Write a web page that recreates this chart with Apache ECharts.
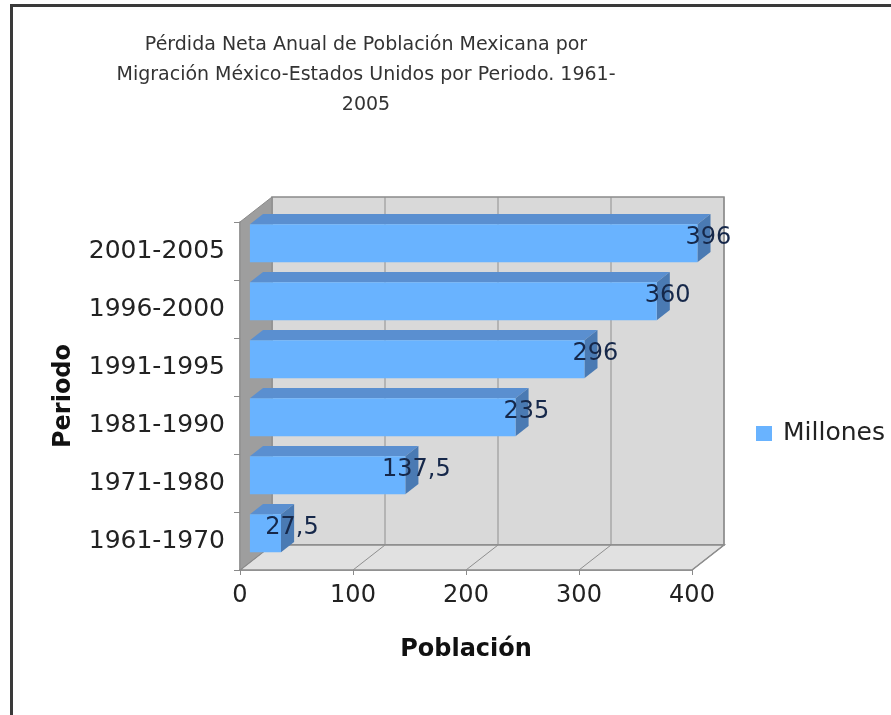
<!DOCTYPE html>
<html>
<head>
<meta charset="utf-8">
<script src="https://cdn.jsdelivr.net/npm/echarts@6/dist/echarts.min.js"></script>
<style>
  html, body { margin: 0; padding: 0; background: #fff; }
  #chart { width: 891px; height: 715px; }
</style>
</head>
<body>
<div id="chart"></div>
<script>
// Periods on the vertical axis (bottom to top)
const periods = ['1961-1970', '1971-1980', '1981-1990', '1991-1995', '1996-2000', '2001-2005'];
// Annual net loss per period (Millones)
const millones = [27.5, 137.5, 235, 296, 360, 396];
// Value ticks on the horizontal axis
const xTicks = [0, 100, 200, 300, 400];
const titleLines = [
  'Pérdida Neta Anual de Población Mexicana por',
  'Migración México-Estados Unidos por Periodo. 1961-',
  '2005'
];

const FONT = '"DejaVu Sans", Verdana, sans-serif';
// Depth vector of the 3D box, in pixels (back wall sits up and to the right)
const DX = 32, DY = -25;
// Bars occupy this slice of the depth, and this fraction of each band
const NEAR = 0.31, FAR = 0.72, BAR_FRAC = 0.655;

const COLORS = {
  wall: '#d9d9d9', floor: '#e1e1e1', side: '#9e9e9e', edge: '#8a8a8a',
  grid: '#8f8f8f', front: '#69b3ff', top: '#5a8fd0', end: '#4a7ab3', label: '#16284a'
};

function sceneItem(params, api) {
  const cs = params.coordSys;
  const x = cs.x, y = cs.y, w = cs.width, h = cs.height;
  return {
    type: 'group',
    children: [
      { type: 'polygon', shape: { points: [[x + DX, y + DY], [x + w + DX, y + DY], [x + w + DX, y + h + DY], [x + DX, y + h + DY]] },
        style: { fill: COLORS.wall, stroke: COLORS.edge, lineWidth: 1.5 } },
      { type: 'polygon', shape: { points: [[x, y + h], [x + w, y + h], [x + w + DX, y + h + DY], [x + DX, y + h + DY]] },
        style: { fill: COLORS.floor, stroke: COLORS.edge, lineWidth: 1.5 } },
      { type: 'polygon', shape: { points: [[x, y], [x + DX, y + DY], [x + DX, y + h + DY], [x, y + h]] },
        style: { fill: COLORS.side, stroke: COLORS.edge, lineWidth: 1 } }
    ]
  };
}

function gridItem(params, api) {
  const cs = params.coordSys;
  const px = api.coord([api.value(0), periods[0]])[0];
  const yTop = cs.y, yBot = cs.y + cs.height;
  return {
    type: 'group',
    children: [
      { type: 'line', shape: { x1: px + DX, y1: yTop + DY, x2: px + DX, y2: yBot + DY }, style: { stroke: COLORS.grid, lineWidth: 1 } },
      { type: 'line', shape: { x1: px, y1: yBot, x2: px + DX, y2: yBot + DY }, style: { stroke: COLORS.grid, lineWidth: 1 } }
    ]
  };
}

function fmt(v) { return String(v).replace('.', ','); }

function barItem(params, api) {
  const v = api.value(0);
  const cat = api.value(1);
  const base = api.coord([0, cat]);
  const end = api.coord([v, cat]);
  const band = api.size([0, 1])[1];
  const h = band * BAR_FRAC;
  const nx = NEAR * DX, ny = NEAR * DY;
  const fx = (FAR - NEAR) * DX, fy = (FAR - NEAR) * DY;
  const x0 = base[0] + nx, x1 = end[0] + nx;
  const yc = base[1] + ny;
  const yt = yc - h / 2, yb = yc + h / 2;
  return {
    type: 'group',
    children: [
      { type: 'polygon', shape: { points: [[x0, yt], [x1, yt], [x1 + fx, yt + fy], [x0 + fx, yt + fy]] },
        style: { fill: COLORS.top } },
      { type: 'polygon', shape: { points: [[x1, yt], [x1 + fx, yt + fy], [x1 + fx, yb + fy], [x1, yb]] },
        style: { fill: COLORS.end } },
      { type: 'rect', shape: { x: x0, y: yt, width: x1 - x0, height: h },
        style: { fill: COLORS.front } },
      { type: 'text', z2: 50,
        style: { x: x1 + 11, y: yc - 5, text: fmt(v), align: 'center', verticalAlign: 'middle',
                 font: '24px ' + FONT, fill: COLORS.label } }
    ]
  };
}

const chart = echarts.init(document.getElementById('chart'), null, { renderer: 'canvas' });

chart.setOption({
  backgroundColor: '#ffffff',
  animation: false,
  graphic: [
    { type: 'rect', z: 100, silent: true,
      shape: { x: 11.5, y: 5.5, width: 900, height: 720 },
      style: { fill: null, stroke: '#3a3a3a', lineWidth: 3 } },
    { type: 'text', z: 100, x: 366, y: 30,
      style: { text: titleLines.join('\n'), align: 'center', verticalAlign: 'top',
               font: '19px ' + FONT, lineHeight: 30, fill: '#333333' } }
  ],
  legend: {
    data: ['Millones'],
    left: 751, top: 416,
    icon: 'rect', itemWidth: 16, itemHeight: 15, itemGap: 10,
    textStyle: { fontFamily: FONT, fontSize: 25, color: '#222', padding: [0, 0, 0, 6] }
  },
  grid: { left: 240, top: 222, width: 452, height: 348, containLabel: false },
  xAxis: {
    type: 'value', min: 0, max: 400, interval: 100,
    name: 'Población', nameLocation: 'middle', nameGap: 68,
    nameTextStyle: { fontFamily: FONT, fontSize: 24, fontWeight: 'bold', color: '#111' },
    axisLine: { show: true, lineStyle: { color: COLORS.edge, width: 1.5 } },
    axisTick: { show: true, length: 5, lineStyle: { color: COLORS.edge } },
    axisLabel: { margin: 14, fontFamily: FONT, fontSize: 24, color: '#222' },
    splitLine: { show: false }
  },
  yAxis: {
    type: 'category', data: periods,
    name: 'Periodo', nameLocation: 'middle', nameGap: 164, nameRotate: 90,
    nameTextStyle: { fontFamily: FONT, fontSize: 24, fontWeight: 'bold', color: '#111' },
    axisLine: { show: true, lineStyle: { color: COLORS.edge, width: 1.5 } },
    axisTick: { show: true, length: 6, lineStyle: { color: COLORS.edge } },
    axisLabel: { margin: 15, fontFamily: FONT, fontSize: 25, color: '#222' },
    splitLine: { show: false }
  },
  series: [
    { type: 'custom', name: 'scene', z: 1, silent: true, renderItem: sceneItem,
      data: [[0, periods[0]]], encode: { x: 0, y: 1 } },
    { type: 'custom', name: 'grid', z: 2, silent: true, renderItem: gridItem,
      data: xTicks.slice(1).map(t => [t, periods[0]]), encode: { x: 0, y: 1 } },
    { type: 'custom', name: 'Millones', z: 3, renderItem: barItem,
      itemStyle: { color: COLORS.front },
      data: millones.map((v, i) => [v, periods[i]]), encode: { x: 0, y: 1 } }
  ]
});
</script>
</body>
</html>
